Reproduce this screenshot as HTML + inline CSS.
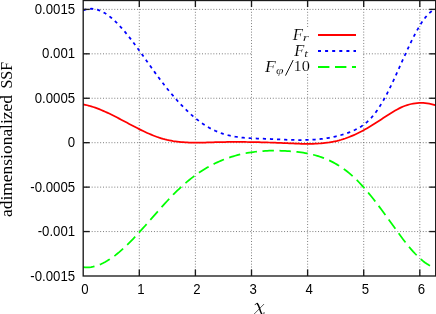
<!DOCTYPE html>
<html><head><meta charset="utf-8"><title>plot</title>
<style>
html,body{margin:0;padding:0;background:#fff;}
body{width:436px;height:314px;overflow:hidden;}
svg{display:block;will-change:transform;}
.sans text{font-family:"Liberation Sans",sans-serif;font-size:13.4px;fill:#000;}
.serif{font-family:"Liberation Serif",serif;fill:#000;}
.thin{stroke:#fff;stroke-width:0.12px;}
</style></head><body>
<svg width="436" height="314" viewBox="0 0 436 314">
<rect width="436" height="314" fill="#fff"/>
<g stroke="#555" stroke-width="0.8" stroke-dasharray="0.95,1.88" fill="none">
<line x1="139.30" y1="0.5" x2="139.30" y2="276.0"/>
<line x1="195.40" y1="0.5" x2="195.40" y2="276.0"/>
<line x1="251.51" y1="0.5" x2="251.51" y2="276.0"/>
<line x1="307.61" y1="0.5" x2="307.61" y2="276.0"/>
<line x1="363.71" y1="0.5" x2="363.71" y2="276.0"/>
<line x1="419.81" y1="0.5" x2="419.81" y2="276.0"/>
<line x1="83.2" y1="231.56" x2="435.7" y2="231.56"/>
<line x1="83.2" y1="187.13" x2="435.7" y2="187.13"/>
<line x1="83.2" y1="142.69" x2="435.7" y2="142.69"/>
<line x1="83.2" y1="98.26" x2="435.7" y2="98.26"/>
<line x1="83.2" y1="53.82" x2="435.7" y2="53.82"/>
<line x1="83.2" y1="9.39" x2="435.7" y2="9.39"/>
</g>
<rect x="253" y="27" width="109.5" height="46" fill="#fff"/>
<g fill="none" stroke-width="2" stroke-linejoin="round">
<path d="M83.2,104.38 L85.2,104.79 L87.2,105.25 L89.2,105.78 L91.2,106.36 L93.2,106.99 L95.2,107.68 L97.2,108.40 L99.2,109.18 L101.2,109.99 L103.2,110.84 L105.2,111.72 L107.2,112.64 L109.2,113.58 L111.2,114.55 L113.2,115.54 L115.2,116.55 L117.2,117.58 L119.2,118.62 L121.2,119.67 L123.2,120.73 L125.2,121.79 L127.2,122.85 L129.2,123.92 L131.2,124.97 L133.2,126.03 L135.2,127.07 L137.2,128.09 L139.2,129.11 L141.2,130.10 L143.2,131.07 L145.2,132.01 L147.2,132.93 L149.2,133.81 L151.2,134.66 L153.2,135.48 L155.2,136.25 L157.2,136.98 L159.2,137.67 L161.2,138.30 L163.2,138.89 L165.2,139.42 L167.2,139.90 L169.2,140.33 L171.2,140.72 L173.2,141.07 L175.2,141.37 L177.2,141.64 L179.2,141.87 L181.2,142.06 L183.2,142.22 L185.2,142.36 L187.2,142.46 L189.2,142.54 L191.2,142.60 L193.2,142.63 L195.2,142.64 L197.2,142.64 L199.2,142.62 L201.2,142.59 L203.2,142.55 L205.2,142.51 L207.2,142.45 L209.2,142.39 L211.2,142.33 L213.2,142.27 L215.2,142.21 L217.2,142.16 L219.2,142.11 L221.2,142.07 L223.2,142.04 L225.2,142.01 L227.2,141.98 L229.2,141.96 L231.2,141.95 L233.2,141.93 L235.2,141.93 L237.2,141.93 L239.2,141.93 L241.2,141.94 L243.2,141.96 L245.2,141.97 L247.2,142.00 L249.2,142.02 L251.2,142.05 L253.2,142.09 L255.2,142.13 L257.2,142.17 L259.2,142.21 L261.2,142.26 L263.2,142.32 L265.2,142.37 L267.2,142.44 L269.2,142.50 L271.2,142.57 L273.2,142.64 L275.2,142.71 L277.2,142.79 L279.2,142.87 L281.2,142.95 L283.2,143.03 L285.2,143.12 L287.2,143.21 L289.2,143.30 L291.2,143.39 L293.2,143.48 L295.2,143.56 L297.2,143.64 L299.2,143.71 L301.2,143.77 L303.2,143.81 L305.2,143.84 L307.2,143.86 L309.2,143.86 L311.2,143.83 L313.2,143.79 L315.2,143.72 L317.2,143.62 L319.2,143.50 L321.2,143.35 L323.2,143.16 L325.2,142.94 L327.2,142.69 L329.2,142.40 L331.2,142.06 L333.2,141.69 L335.2,141.27 L337.2,140.81 L339.2,140.30 L341.2,139.74 L343.2,139.13 L345.2,138.47 L347.2,137.75 L349.2,136.99 L351.2,136.18 L353.2,135.33 L355.2,134.43 L357.2,133.49 L359.2,132.50 L361.2,131.48 L363.2,130.42 L365.2,129.32 L367.2,128.19 L369.2,127.02 L371.2,125.82 L373.2,124.59 L375.2,123.33 L377.2,122.04 L379.2,120.73 L381.2,119.40 L383.2,118.07 L385.2,116.75 L387.2,115.44 L389.2,114.15 L391.2,112.90 L393.2,111.68 L395.2,110.52 L397.2,109.41 L399.2,108.38 L401.2,107.41 L403.2,106.54 L405.2,105.76 L407.2,105.07 L409.2,104.48 L411.2,103.99 L413.2,103.58 L415.2,103.27 L417.2,103.06 L419.2,102.94 L421.2,102.90 L423.2,102.96 L425.2,103.11 L427.2,103.35 L429.2,103.69 L431.2,104.10 L433.2,104.61 L435.2,105.21 L435.7,105.37" stroke="#ff0000" stroke-width="1.75"/>
<path d="M83.2,10.37 L85.2,9.63 L87.2,9.12 L89.2,8.82 L91.2,8.73 L93.2,8.85 L95.2,9.16 L97.2,9.65 L99.2,10.33 L101.2,11.17 L103.2,12.19 L105.2,13.36 L107.2,14.68 L109.2,16.15 L111.2,17.75 L113.2,19.48 L115.2,21.34 L117.2,23.31 L119.2,25.38 L121.2,27.56 L123.2,29.83 L125.2,32.19 L127.2,34.62 L129.2,37.13 L131.2,39.69 L133.2,42.32 L135.2,45.00 L137.2,47.71 L139.2,50.47 L141.2,53.25 L143.2,56.05 L145.2,58.86 L147.2,61.68 L149.2,64.50 L151.2,67.31 L153.2,70.11 L155.2,72.88 L157.2,75.62 L159.2,78.32 L161.2,80.98 L163.2,83.59 L165.2,86.16 L167.2,88.68 L169.2,91.15 L171.2,93.56 L173.2,95.93 L175.2,98.24 L177.2,100.49 L179.2,102.69 L181.2,104.83 L183.2,106.90 L185.2,108.92 L187.2,110.87 L189.2,112.76 L191.2,114.59 L193.2,116.34 L195.2,118.03 L197.2,119.64 L199.2,121.19 L201.2,122.66 L203.2,124.06 L205.2,125.38 L207.2,126.63 L209.2,127.79 L211.2,128.88 L213.2,129.88 L215.2,130.81 L217.2,131.67 L219.2,132.46 L221.2,133.18 L223.2,133.84 L225.2,134.44 L227.2,134.99 L229.2,135.48 L231.2,135.91 L233.2,136.31 L235.2,136.66 L237.2,136.96 L239.2,137.23 L241.2,137.47 L243.2,137.68 L245.2,137.85 L247.2,138.01 L249.2,138.14 L251.2,138.25 L253.2,138.35 L255.2,138.43 L257.2,138.51 L259.2,138.58 L261.2,138.65 L263.2,138.72 L265.2,138.80 L267.2,138.88 L269.2,138.96 L271.2,139.05 L273.2,139.14 L275.2,139.24 L277.2,139.33 L279.2,139.43 L281.2,139.52 L283.2,139.61 L285.2,139.69 L287.2,139.77 L289.2,139.84 L291.2,139.90 L293.2,139.96 L295.2,140.00 L297.2,140.03 L299.2,140.04 L301.2,140.04 L303.2,140.03 L305.2,140.00 L307.2,139.95 L309.2,139.88 L311.2,139.78 L313.2,139.67 L315.2,139.53 L317.2,139.37 L319.2,139.18 L321.2,138.96 L323.2,138.72 L325.2,138.44 L327.2,138.14 L329.2,137.80 L331.2,137.42 L333.2,137.02 L335.2,136.57 L337.2,136.09 L339.2,135.57 L341.2,135.01 L343.2,134.41 L345.2,133.76 L347.2,133.07 L349.2,132.34 L351.2,131.56 L353.2,130.72 L355.2,129.81 L357.2,128.81 L359.2,127.70 L361.2,126.47 L363.2,125.10 L365.2,123.57 L367.2,121.87 L369.2,119.98 L371.2,117.88 L373.2,115.57 L375.2,113.02 L377.2,110.26 L379.2,107.28 L381.2,104.09 L383.2,100.70 L385.2,97.11 L387.2,93.32 L389.2,89.36 L391.2,85.26 L393.2,81.03 L395.2,76.71 L397.2,72.31 L399.2,67.87 L401.2,63.41 L403.2,58.95 L405.2,54.53 L407.2,50.16 L409.2,45.87 L411.2,41.70 L413.2,37.66 L415.2,33.77 L417.2,30.08 L419.2,26.59 L421.2,23.34 L423.2,20.35 L425.2,17.65 L427.2,15.26 L429.2,13.21 L431.2,11.53 L433.2,10.23 L435.2,9.36 L435.7,9.21" stroke="#0000ff" stroke-width="1.75" stroke-dasharray="3.2,3.897"/>
<path d="M83.2,267.15 L85.2,267.33 L87.2,267.36 L89.2,267.26 L91.2,267.03 L93.2,266.66 L95.2,266.17 L97.2,265.57 L99.2,264.84 L101.2,264.00 L103.2,263.06 L105.2,262.01 L107.2,260.86 L109.2,259.61 L111.2,258.28 L113.2,256.85 L115.2,255.35 L117.2,253.76 L119.2,252.11 L121.2,250.38 L123.2,248.58 L125.2,246.73 L127.2,244.81 L129.2,242.85 L131.2,240.83 L133.2,238.77 L135.2,236.67 L137.2,234.54 L139.2,232.37 L141.2,230.17 L143.2,227.95 L145.2,225.71 L147.2,223.46 L149.2,221.19 L151.2,218.92 L153.2,216.64 L155.2,214.37 L157.2,212.10 L159.2,209.85 L161.2,207.60 L163.2,205.38 L165.2,203.18 L167.2,201.00 L169.2,198.86 L171.2,196.75 L173.2,194.68 L175.2,192.66 L177.2,190.68 L179.2,188.76 L181.2,186.89 L183.2,185.08 L185.2,183.33 L187.2,181.63 L189.2,179.99 L191.2,178.40 L193.2,176.87 L195.2,175.39 L197.2,173.96 L199.2,172.59 L201.2,171.26 L203.2,169.98 L205.2,168.76 L207.2,167.58 L209.2,166.45 L211.2,165.36 L213.2,164.33 L215.2,163.33 L217.2,162.38 L219.2,161.48 L221.2,160.62 L223.2,159.80 L225.2,159.02 L227.2,158.28 L229.2,157.58 L231.2,156.92 L233.2,156.30 L235.2,155.72 L237.2,155.17 L239.2,154.66 L241.2,154.18 L243.2,153.74 L245.2,153.33 L247.2,152.95 L249.2,152.61 L251.2,152.29 L253.2,152.01 L255.2,151.75 L257.2,151.53 L259.2,151.33 L261.2,151.16 L263.2,151.02 L265.2,150.90 L267.2,150.80 L269.2,150.74 L271.2,150.69 L273.2,150.66 L275.2,150.66 L277.2,150.68 L279.2,150.72 L281.2,150.78 L283.2,150.85 L285.2,150.95 L287.2,151.06 L289.2,151.18 L291.2,151.33 L293.2,151.50 L295.2,151.68 L297.2,151.89 L299.2,152.13 L301.2,152.40 L303.2,152.70 L305.2,153.03 L307.2,153.40 L309.2,153.80 L311.2,154.25 L313.2,154.73 L315.2,155.26 L317.2,155.84 L319.2,156.46 L321.2,157.14 L323.2,157.87 L325.2,158.65 L327.2,159.49 L329.2,160.39 L331.2,161.35 L333.2,162.38 L335.2,163.47 L337.2,164.63 L339.2,165.86 L341.2,167.16 L343.2,168.53 L345.2,169.99 L347.2,171.52 L349.2,173.13 L351.2,174.83 L353.2,176.61 L355.2,178.48 L357.2,180.44 L359.2,182.49 L361.2,184.61 L363.2,186.81 L365.2,189.08 L367.2,191.42 L369.2,193.82 L371.2,196.28 L373.2,198.79 L375.2,201.35 L377.2,203.96 L379.2,206.60 L381.2,209.28 L383.2,211.99 L385.2,214.73 L387.2,217.49 L389.2,220.27 L391.2,223.05 L393.2,225.83 L395.2,228.61 L397.2,231.36 L399.2,234.08 L401.2,236.77 L403.2,239.41 L405.2,241.99 L407.2,244.51 L409.2,246.95 L411.2,249.31 L413.2,251.58 L415.2,253.74 L417.2,255.79 L419.2,257.73 L421.2,259.53 L423.2,261.20 L425.2,262.72 L427.2,264.08 L429.2,265.27 L431.2,266.29 L433.2,267.13 L435.2,267.77 L435.7,267.90" stroke="#00ff00" stroke-width="1.75" stroke-dasharray="11.4,5.59"/>
<line x1="318" y1="35" x2="356" y2="35" stroke="#ff0000"/>
<line x1="318" y1="51" x2="356" y2="51" stroke="#0000ff" stroke-dasharray="3,4.097"/>
<line x1="318" y1="67" x2="356" y2="67" stroke="#00ff00" stroke-dasharray="11.4,5.59"/>
</g>
<g stroke="#1a1a1a" stroke-width="1.35" fill="none">
<rect x="83.2" y="0.5" width="352.5" height="275.5"/>
<line x1="139.30" y1="276.0" x2="139.30" y2="269.5"/>
<line x1="139.30" y1="0.5" x2="139.30" y2="7.0"/>
<line x1="195.40" y1="276.0" x2="195.40" y2="269.5"/>
<line x1="195.40" y1="0.5" x2="195.40" y2="7.0"/>
<line x1="251.51" y1="276.0" x2="251.51" y2="269.5"/>
<line x1="251.51" y1="0.5" x2="251.51" y2="7.0"/>
<line x1="307.61" y1="276.0" x2="307.61" y2="269.5"/>
<line x1="307.61" y1="0.5" x2="307.61" y2="7.0"/>
<line x1="363.71" y1="276.0" x2="363.71" y2="269.5"/>
<line x1="363.71" y1="0.5" x2="363.71" y2="7.0"/>
<line x1="419.81" y1="276.0" x2="419.81" y2="269.5"/>
<line x1="419.81" y1="0.5" x2="419.81" y2="7.0"/>
<line x1="83.2" y1="231.56" x2="89.7" y2="231.56"/>
<line x1="435.7" y1="231.56" x2="429.2" y2="231.56"/>
<line x1="83.2" y1="187.13" x2="89.7" y2="187.13"/>
<line x1="435.7" y1="187.13" x2="429.2" y2="187.13"/>
<line x1="83.2" y1="142.69" x2="89.7" y2="142.69"/>
<line x1="435.7" y1="142.69" x2="429.2" y2="142.69"/>
<line x1="83.2" y1="98.26" x2="89.7" y2="98.26"/>
<line x1="435.7" y1="98.26" x2="429.2" y2="98.26"/>
<line x1="83.2" y1="53.82" x2="89.7" y2="53.82"/>
<line x1="435.7" y1="53.82" x2="429.2" y2="53.82"/>
<line x1="83.2" y1="9.39" x2="89.7" y2="9.39"/>
<line x1="435.7" y1="9.39" x2="429.2" y2="9.39"/>
</g>
<g class="sans" opacity="0.999">
<text transform="translate(75.1,280.60) scale(0.985,1.06)" text-anchor="end">-0.0015</text>
<text transform="translate(75.1,236.16) scale(0.985,1.06)" text-anchor="end">-0.001</text>
<text transform="translate(75.1,191.73) scale(0.985,1.06)" text-anchor="end">-0.0005</text>
<text transform="translate(75.1,147.29) scale(0.985,1.06)" text-anchor="end">0</text>
<text transform="translate(75.1,102.86) scale(0.985,1.06)" text-anchor="end">0.0005</text>
<text transform="translate(75.1,58.42) scale(0.985,1.06)" text-anchor="end">0.001</text>
<text transform="translate(75.1,13.99) scale(0.985,1.06)" text-anchor="end">0.0015</text>
<text transform="translate(84.80,293.7) scale(0.985,1.06)" text-anchor="middle">0</text>
<text transform="translate(140.90,293.7) scale(0.985,1.06)" text-anchor="middle">1</text>
<text transform="translate(197.00,293.7) scale(0.985,1.06)" text-anchor="middle">2</text>
<text transform="translate(253.11,293.7) scale(0.985,1.06)" text-anchor="middle">3</text>
<text transform="translate(309.21,293.7) scale(0.985,1.06)" text-anchor="middle">4</text>
<text transform="translate(365.31,293.7) scale(0.985,1.06)" text-anchor="middle">5</text>
<text transform="translate(421.41,293.7) scale(0.985,1.06)" text-anchor="middle">6</text>
</g>
<g class="serif" opacity="0.999">
<text class="thin" transform="translate(292.70,39.60) scale(0.9735,1)" font-size="17.23px" font-style="italic">F</text>
<text class="thin" transform="translate(302.77,41.10) scale(1.3935,1)" font-size="11.28px" font-style="italic">r</text>
<text class="thin" transform="translate(294.20,55.80) scale(0.9548,1)" font-size="17.23px" font-style="italic">F</text>
<text class="thin" transform="translate(304.26,56.89) scale(1.2179,1)" font-size="11.05px" font-style="italic">t</text>
<text class="thin" transform="translate(265.10,71.70) scale(1.0295,1)" font-size="17.08px" font-style="italic">F</text>
<text class="thin" transform="translate(275.89,73.64) scale(1.3211,1)" font-size="10.29px" font-style="italic">φ</text>
<line x1="285.5" y1="75.6" x2="293.2" y2="60.0" stroke="#000" stroke-width="0.95"/>
<text class="thin" transform="translate(293.53,71.49) scale(1.0471,1)" font-size="15.59px" font-style="normal">10</text>
<g fill="none" stroke="#000" stroke-linecap="round"><path d="M255.1,304.7 C255.5,303.5 256.7,303.0 257.5,303.8" stroke-width="0.8"/><path d="M257.3,303.6 C258.6,304.8 259.2,307.6 260.2,310.4 C261.1,313.0 262.0,314.8 263.1,314.8" stroke-width="1.45"/><path d="M263.0,314.8 C263.7,314.6 264.0,313.6 264.1,312.6" stroke-width="0.8"/><line x1="263.8" y1="304.3" x2="254.0" y2="314.2" stroke-width="0.65"/></g>
<text transform="translate(12.10,217.00) rotate(-90) scale(1.0849,1)" font-size="16.09px">adimensionalized</text>
<text transform="translate(12.10,88.62) rotate(-90) scale(0.9735,1)" font-size="16.46px">SSF</text>
</g>
</svg>
</body></html>
